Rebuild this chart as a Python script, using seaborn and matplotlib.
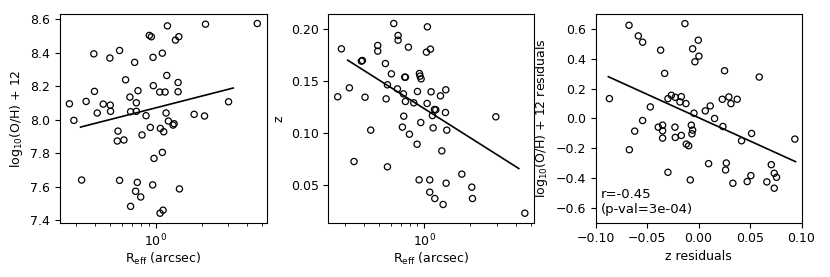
import numpy as np
import seaborn as sns
import matplotlib.pyplot as plt

# Panel 1: effective radius vs metallicity
reff_oh = [0.271, 0.290, 0.326, 0.349, 0.392, 0.396, 0.413, 0.452, 0.500, 0.503,
           0.505, 0.565, 0.559, 0.579, 0.579, 0.618, 0.634, 0.677, 0.684, 0.684,
           0.727, 0.738, 0.746, 0.746, 0.765, 0.757, 0.797, 0.813, 0.864, 0.908,
           0.936, 0.922, 0.955, 0.960, 0.965, 0.975, 1.063, 1.068, 1.073, 1.106,
           1.106, 1.118, 1.129, 1.152, 1.170, 1.182, 1.194, 1.212, 1.301, 1.321,
           1.348, 1.418, 1.403, 1.403, 1.432, 1.789, 2.093, 2.124, 3.011, 4.65]
oh = [8.095, 7.996, 7.640, 8.109, 8.393, 8.169, 8.040, 8.093, 8.368, 8.087,
      8.050, 7.932, 7.873, 8.413, 7.638, 7.879, 8.238, 8.135, 7.483, 8.048,
      8.342, 7.573, 8.101, 8.050, 8.173, 7.626, 7.539, 7.909, 8.024, 8.503,
      8.495, 7.954, 7.611, 8.372, 8.203, 7.769, 8.165, 7.442, 7.948, 8.397,
      7.805, 7.460, 7.928, 8.165, 8.040, 8.264, 8.560, 7.992, 7.968, 7.976,
      8.475, 8.495, 8.222, 8.167, 7.587, 8.032, 8.022, 8.570, 8.107, 8.574]
fit1_x = [0.321, 3.23]
fit1_y = [7.956, 8.189]

# Panel 2: effective radius vs redshift
reff_z = [0.2686, 0.284, 0.3206, 0.344, 0.3846, 0.3905, 0.4065, 0.443, 0.4927, 0.4927,
          0.5535, 0.5594, 0.5707, 0.5707, 0.6061, 0.628, 0.664, 0.6708, 0.6708, 0.7164,
          0.7272, 0.7309, 0.742, 0.7496, 0.7496, 0.7844, 0.7965, 0.8506, 0.8948, 0.8993,
          0.9223, 0.927, 0.9364, 0.9459, 0.9508, 1.031, 1.041, 1.046, 1.084, 1.084,
          1.095, 1.106, 1.129, 1.141, 1.164, 1.170, 1.188, 1.275, 1.301, 1.327,
          1.375, 1.382, 1.389, 1.403, 1.762, 2.050, 2.071, 2.951, 4.58]
z = [0.1348, 0.1808, 0.1434, 0.0727, 0.1690, 0.1696, 0.1344, 0.1028, 0.1840, 0.1786,
     0.1667, 0.1328, 0.0676, 0.1463, 0.1568, 0.2051, 0.1424, 0.1936, 0.1891, 0.1057,
     0.1376, 0.1162, 0.1536, 0.1536, 0.1303, 0.1824, 0.0989, 0.1290, 0.0893, 0.1399,
     0.0551, 0.1571, 0.1546, 0.1101, 0.1520, 0.1776, 0.1284, 0.2019, 0.0551, 0.0433,
     0.1805, 0.1396, 0.1168, 0.1050, 0.1226, 0.0372, 0.1223, 0.1357, 0.0829, 0.0315,
     0.1197, 0.1415, 0.0519, 0.1028, 0.0606, 0.0481, 0.0372, 0.1156, 0.0231]
fit2_x = [0.3126, 4.18]
fit2_y = [0.1699, 0.066]

# Panel 3: residuals
z_res = [-0.0867, -0.0676, -0.0673, -0.0621, -0.0586, -0.0544, -0.0544, -0.0469, -0.0392, -0.0369,
         -0.0350, -0.0350, -0.0350, -0.0330, -0.0298, -0.0298, -0.0265, -0.0230, -0.0227, -0.0227,
         -0.0181, -0.0168, -0.0168, -0.0123, -0.0120, -0.0097, -0.0081, -0.0071, -0.0065, -0.0058,
         -0.0058, -0.0045, -0.0133, -0.0036, -0.0003, 0.0003, 0.0065, 0.0097, 0.0113, 0.0155,
         0.0230, 0.0236, 0.0252, 0.0262, 0.0269, 0.0294, 0.0314, 0.0333, 0.0375, 0.0417,
         0.0472, 0.0508, 0.0515, 0.0589, 0.0663, 0.0706, 0.0735, 0.0735, 0.0757, 0.0935]
oh_res = [0.1325, 0.6245, -0.2104, -0.0857, 0.5532, 0.5110, -0.0145, 0.0768, -0.0590, 0.4575,
          -0.0456, -0.0835, -0.1325, 0.3017, 0.1325, -0.3618, 0.1547, -0.0590, 0.1414, -0.1280,
          0.1102, -0.1146, 0.1458, 0.0991, -0.1725, -0.1837, -0.4130, -0.0456, -0.1035, 0.4664,
          -0.0790, 0.0345, 0.6356, 0.3796, 0.5243, 0.4174, 0.0501, -0.3039, 0.0835, -0.0011,
          0.1280, -0.0545, 0.3195, -0.3462, -0.2994, 0.1436, 0.0991, -0.4352, 0.1280, -0.1503,
          -0.4241, -0.3840, -0.1013, 0.2772, -0.4263, -0.3106, -0.3684, -0.4686, -0.3952, -0.1391]
fit3_x = [-0.0877, 0.0942]
fit3_y = [0.2794, -0.2905]
r_value = -0.45
p_value = 3e-4

plt.rcParams['font.size'] = 9

fig = plt.figure(figsize=(8.3, 2.77), dpi=100)
ax1 = fig.add_axes([0.0723, 0.196, 0.249, 0.7534])
ax2 = fig.add_axes([0.3956, 0.196, 0.248, 0.7534])
ax3 = fig.add_axes([0.7177, 0.196, 0.248, 0.7534])

scatter_kws = dict(marker='o', s=20, facecolor='none', edgecolor='black', linewidth=0.9)

sns.scatterplot(x=reff_oh, y=oh, ax=ax1, **scatter_kws)
sns.lineplot(x=fit1_x, y=fit1_y, ax=ax1, color='black', linewidth=1.2)
ax1.set_xscale('log')
ax1.set_xlabel(r'R$_{\rm eff}$ (arcsec)', labelpad=1.5)
ax1.set_ylabel(r'log$_{10}$(O/H) + 12')

sns.scatterplot(x=reff_z, y=z, ax=ax2, **scatter_kws)
sns.lineplot(x=fit2_x, y=fit2_y, ax=ax2, color='black', linewidth=1.2)
ax2.set_xscale('log')
ax2.set_xlabel(r'R$_{\rm eff}$ (arcsec)', labelpad=1.5)
ax2.set_ylabel('z')

sns.scatterplot(x=z_res, y=oh_res, ax=ax3, **scatter_kws)
sns.lineplot(x=fit3_x, y=fit3_y, ax=ax3, color='black', linewidth=1.2)
ax3.set_xlim(-0.1, 0.1)
ax3.set_ylim(-0.7, 0.7)
ax3.set_xlabel('z residuals', labelpad=3)
ax3.set_ylabel(r'log$_{10}$(O/H) + 12 residuals')
ax3.text(0.025, 0.03, f'r={r_value:.2f}\n(p-val={p_value:.0e})',
         transform=ax3.transAxes, ha='left', va='bottom', fontsize=9.5)

fig.savefig('out.png', dpi=100)
